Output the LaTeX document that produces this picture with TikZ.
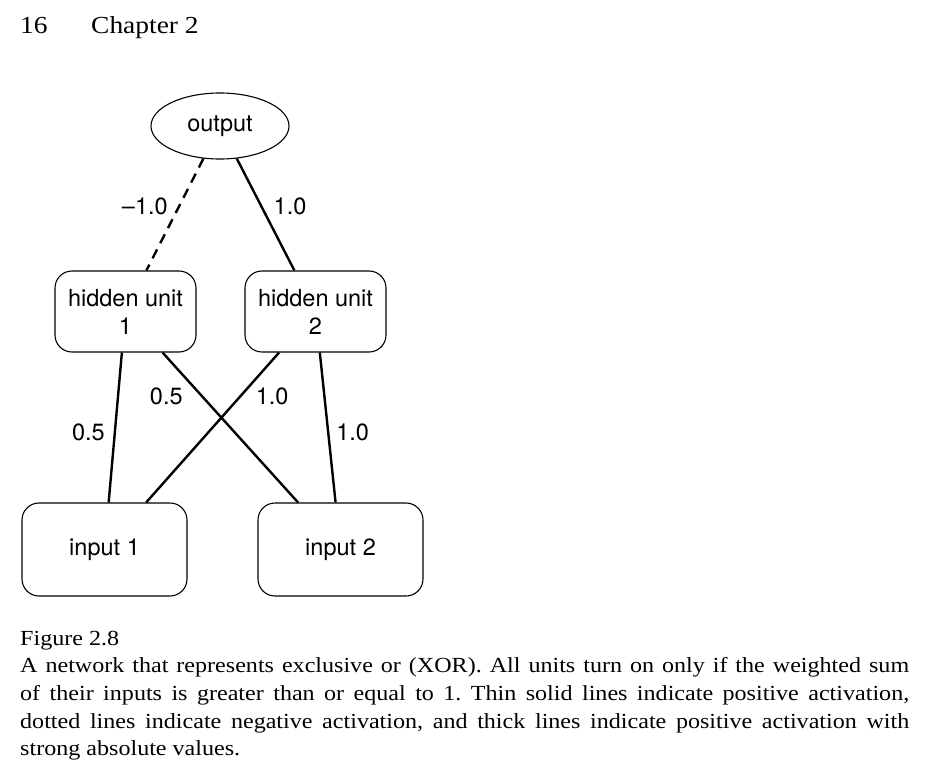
\documentclass[tikz,border=0pt]{standalone}
\usepackage{fontspec}
\setmainfont[FakeStretch=1.12]{Liberation Serif}
\newfontfamily\netfont{TeX Gyre Heros}
\usetikzlibrary{shapes.geometric}
\frenchspacing
\begin{document}
\begin{tikzpicture}[x=1pt,y=-1pt,
    unit/.style={draw,line width=1.1pt,rounded corners=17pt,inner sep=0pt,align=center,
      font=\netfont\fontsize{23.5}{28}\selectfont},
    hidden/.style={unit,minimum width=141pt,minimum height=81pt},
    input/.style={unit,minimum width=165pt,minimum height=93pt},
    weight/.style={line width=2.4pt},
    negweight/.style={weight,dash pattern=on 10pt off 7pt},
    wlabel/.style={inner sep=0pt,font=\netfont\fontsize{23.5}{28}\selectfont},
    page/.style={inner sep=0pt,anchor=base west,font=\fontsize{24.5}{28}\selectfont}]
    \useasboundingbox (0,0) rectangle (934,773);
    \node[page] (pagenum) at (20,34) {16};
    \node[page] (chapter) at (91,34) {Chapter 2};
    \node[draw,ellipse,line width=1.1pt,inner sep=0pt,minimum width=138pt,minimum height=66pt,
      font=\netfont\fontsize{23.5}{28}\selectfont] (output) at (220,126) {output};
    \node[hidden] (hid1) at (125.5,311.5) {hidden unit\\1};
    \node[hidden] (hid2) at (315.5,311.5) {hidden unit\\2};
    \node[input] (in1) at (104.5,549.5) {input 1};
    \node[input] (in2) at (340.5,549.5) {input 2};
    \draw[negweight] (output) -- node[wlabel,pos=0.43,left=10pt] (w11) {\textendash1.0} (hid1);
    \draw[weight] (output) -- node[wlabel,pos=0.43,right=11pt] (w12) {1.0} (hid2);
    \draw[weight] (hid1) -- node[wlabel,pos=0.53,left=9pt] (w21) {0.5} (in1);
    \draw[weight] (hid1) -- node[wlabel,pos=0.29,left=18pt] (w22) {0.5} (in2);
    \draw[weight] (hid2) -- node[wlabel,pos=0.29,right=14pt] (w23) {1.0} (in1);
    \draw[weight] (hid2) -- node[wlabel,pos=0.53,right=7pt] (w24) {1.0} (in2);
    \node[inner sep=0pt,anchor=base west,text width=889pt,align=justify,
      font=\fontsize{21.5}{27.7}\selectfont] (caption) at (20,645) {Figure 2.8\\
      A network that represents exclusive or (XOR). All units turn on only if the weighted sum\linebreak
      of their inputs is greater than or equal to 1. Thin solid lines indicate positive activation,\linebreak
      dotted lines indicate negative activation, and thick lines indicate positive activation with\linebreak
      strong absolute values.};
\end{tikzpicture}
\end{document}
